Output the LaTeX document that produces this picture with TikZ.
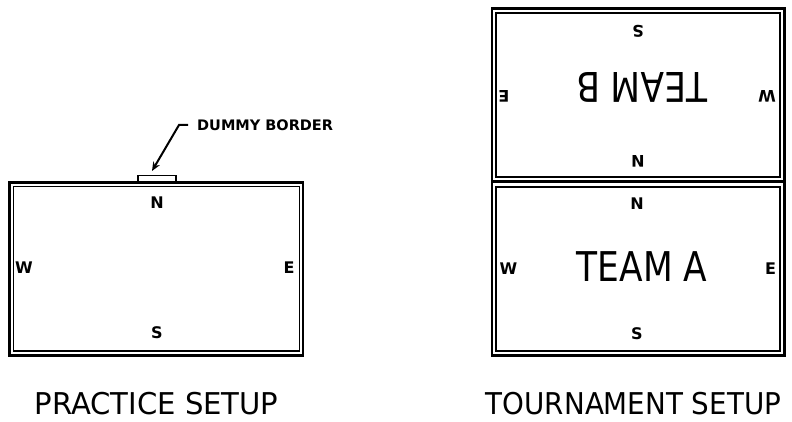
\documentclass[tikz,border=0pt]{standalone}
\usepackage{fontspec}
\setmainfont{DejaVu Sans}
\newfontfamily\narrowA[FakeStretch=0.84]{DejaVu Sans}
\newfontfamily\narrowB[FakeStretch=0.925]{DejaVu Sans}
\newfontfamily\narrowC[FakeStretch=0.97]{DejaVu Sans}
\usetikzlibrary{arrows.meta}
\begin{document}
\begin{tikzpicture}[x=1pt,y=-1pt,
  outerline/.style={line width=2.8pt},
  innerline/.style={line width=1.6pt},
  compass/.style={inner sep=0pt,font=\fontsize{16}{16}\selectfont\bfseries},
  team/.style={inner sep=0pt,font=\narrowA\fontsize{41}{41}\selectfont},
  caption/.style={inner sep=0pt,font=\fontsize{30}{30}\selectfont},
  note/.style={inner sep=0pt,font=\fontsize{14.5}{14.5}\selectfont\bfseries,anchor=west}]
\useasboundingbox (0,0) rectangle (792,422);
% practice setup
\draw[outerline] (9.7,182.3) rectangle (303,355.5);
\draw[innerline] (13.3,186.5) rectangle (299.5,351);
\draw[innerline] (137.7,182.3) rectangle (175.7,175.5);
\coordinate (dum) at (152,171);
\coordinate (bend) at (179,125);
\coordinate (tail) at (188,125);
\node[note] (dtext) at (197,125) {DUMMY BORDER};
\draw[line width=2pt,-{Stealth[length=9pt,width=7.5pt]}] (tail) -- (bend) -- (dum);
\node[compass] (pN) at (157,203) {N};
\node[compass] (pS) at (157,333) {S};
\node[compass] (pW) at (24,268) {W};
\node[compass] (pE) at (289,268) {E};
\node[caption,font=\narrowC\fontsize{30}{30}\selectfont] (pcap) at (156.5,404) {PRACTICE SETUP};
% tournament setup
\draw[outerline] (492,8.7) rectangle (784.5,181.5);
\draw[innerline] (495.7,13) rectangle (780.2,176.8);
\draw[outerline] (492,181.5) rectangle (784.5,355.8);
\draw[innerline] (495.7,186.8) rectangle (780.2,351.2);
\node[compass,rotate=180] (bS) at (638,31.5) {S};
\node[compass,rotate=180] (bN) at (638,161.5) {N};
\node[compass,rotate=180] (bE) at (504,96.5) {E};
\node[compass,rotate=180] (bW) at (767,96.5) {W};
\node[team,rotate=180] (tb) at (642,87) {TEAM B};
\node[compass] (aN) at (637,203.3) {N};
\node[compass] (aS) at (637,333.3) {S};
\node[compass] (aW) at (508.5,269) {W};
\node[compass] (aE) at (770.5,269) {E};
\node[team] (ta) at (642,267) {TEAM A};
\node[caption,font=\narrowB\fontsize{30}{30}\selectfont] (tcap) at (633.5,404) {TOURNAMENT SETUP};
\end{tikzpicture}
\end{document}
